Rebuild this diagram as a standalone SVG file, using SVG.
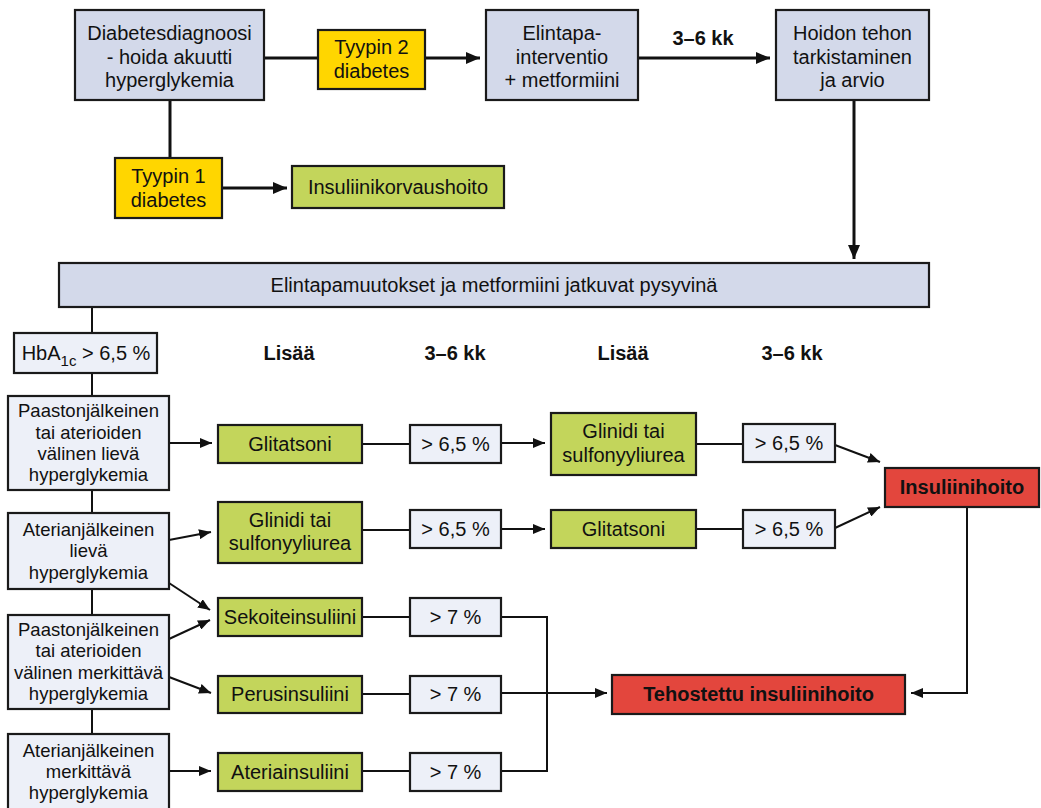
<svg xmlns="http://www.w3.org/2000/svg" width="1041" height="808" viewBox="0 0 1041 808">
<style>
text{font-family:"Liberation Sans",Arial,sans-serif;font-size:20px;fill:#111;text-anchor:middle}
.sm{font-size:18.5px}
.b{font-weight:bold}
.box{stroke:#1a1a1a;stroke-width:2.2}
.blue{fill:#d3d9ea}
.pale{fill:#edf0f8}
.yel{fill:#ffd600}
.grn{fill:#c3d55b}
.red{fill:#e3463d}
.ln{fill:none;stroke:#111;stroke-width:2}
.lnT{fill:none;stroke:#111;stroke-width:3}
</style>
<defs>
<marker id="ah" viewBox="0 0 12 10" refX="12" refY="5" markerWidth="12" markerHeight="10" markerUnits="userSpaceOnUse" orient="auto"><path d="M0,0 L12,5 L0,10 z" fill="#111"/></marker>
<marker id="ahL" viewBox="0 0 14 12" refX="14" refY="6" markerWidth="14" markerHeight="12" markerUnits="userSpaceOnUse" orient="auto"><path d="M0,0 L14,6 L0,12 z" fill="#111"/></marker>
</defs>
<rect width="1041" height="808" fill="#fff"/>
<g id="connectors">
<path class="lnT" d="M264,58 H318"/>
<path class="lnT" d="M425,58 H480" marker-end="url(#ahL)"/>
<path class="lnT" d="M638,58 H770" marker-end="url(#ahL)"/>
<path class="lnT" d="M854,100 V259" marker-end="url(#ahL)"/>
<path class="lnT" d="M170,100 V158"/>
<path class="lnT" d="M222,188 H287" marker-end="url(#ahL)"/>
<path class="ln" d="M92,307 V740"/>
<path class="ln" d="M169,443 H212" marker-end="url(#ah)"/>
<path class="ln" d="M362,444 H410"/>
<path class="ln" d="M501,443 H545" marker-end="url(#ah)"/>
<path class="ln" d="M696,444 H743"/>
<path class="ln" d="M835,445 L880,462" marker-end="url(#ah)"/>
<path class="ln" d="M169,540 L211,532" marker-end="url(#ah)"/>
<path class="ln" d="M362,530 H410"/>
<path class="ln" d="M501,529 H545" marker-end="url(#ah)"/>
<path class="ln" d="M696,529 H743"/>
<path class="ln" d="M835,528 L880,507" marker-end="url(#ah)"/>
<path class="ln" d="M169,583 L210,610" marker-end="url(#ah)"/>
<path class="ln" d="M169,639 L210,620" marker-end="url(#ah)"/>
<path class="ln" d="M169,677 L211,693" marker-end="url(#ah)"/>
<path class="ln" d="M169,771 H211" marker-end="url(#ah)"/>
<path class="ln" d="M362,617 H410"/>
<path class="ln" d="M362,694 H410"/>
<path class="ln" d="M362,771 H410"/>
<path class="ln" d="M501,617 H547 V771 H501"/>
<path class="ln" d="M501,693 H607" marker-end="url(#ah)"/>
<path class="ln" d="M967,507 V693 H911" marker-end="url(#ah)"/>
</g>
<g id="n-diagnoosi"><rect class="box blue" x="75" y="10" width="189" height="90"/><text x="169.5" y="40">Diabetesdiagnoosi</text><text x="169.5" y="63.5">- hoida akuutti</text><text x="169.5" y="87">hyperglykemia</text></g>
<g id="n-tyyppi2"><rect class="box yel" x="318" y="30" width="107" height="59"/><text x="371.5" y="54">Tyypin 2</text><text x="371.5" y="78">diabetes</text></g>
<g id="n-elintapa"><rect class="box blue" x="486" y="10" width="152" height="90"/><text x="562" y="40">Elintapa-</text><text x="562" y="63.5">interventio</text><text x="562" y="87">+ metformiini</text></g>
<text class="b" x="703" y="45">3–6 kk</text>
<g id="n-hoidon"><rect class="box blue" x="776" y="10" width="153" height="90"/><text x="852.5" y="40">Hoidon tehon</text><text x="852.5" y="63.5">tarkistaminen</text><text x="852.5" y="87">ja arvio</text></g>
<g id="n-tyyppi1"><rect class="box yel" x="115" y="158" width="107" height="60"/><text x="168.5" y="183">Tyypin 1</text><text x="168.5" y="207">diabetes</text></g>
<g id="n-korvaus"><rect class="box grn" x="292" y="166" width="212" height="42"/><text x="398" y="194">Insuliinikorvaushoito</text></g>
<g id="n-jatkuvat"><rect class="box blue" x="59" y="263" width="870" height="44"/><text x="494" y="292">Elintapamuutokset ja metformiini jatkuvat pysyvinä</text></g>
<g id="n-hba1c"><rect class="box pale" x="14" y="333" width="143" height="40"/><text x="86" y="360">HbA<tspan font-size="15" dy="6">1c</tspan><tspan dy="-6"> &gt; 6,5 %</tspan></text></g>
<g id="headers"><text class="b" x="289" y="360">Lisää</text><text class="b" x="455" y="360">3–6 kk</text><text class="b" x="623" y="360">Lisää</text><text class="b" x="792" y="360">3–6 kk</text></g>
<g id="n-left1"><rect class="box pale" x="8" y="396" width="161" height="94"/><text class="sm" x="88.5" y="417">Paastonjälkeinen</text><text class="sm" x="88.5" y="439">tai aterioiden</text><text class="sm" x="88.5" y="460">välinen lievä</text><text class="sm" x="88.5" y="481">hyperglykemia</text></g>
<g id="n-left2"><rect class="box pale" x="8" y="513" width="161" height="76"/><text class="sm" x="88.5" y="536">Aterianjälkeinen</text><text class="sm" x="88.5" y="557">lievä</text><text class="sm" x="88.5" y="579">hyperglykemia</text></g>
<g id="n-left3"><rect class="box pale" x="8" y="615" width="161" height="94"/><text class="sm" x="88.5" y="636">Paastonjälkeinen</text><text class="sm" x="88.5" y="657">tai aterioiden</text><text class="sm" x="88.5" y="679">välinen merkittävä</text><text class="sm" x="88.5" y="700">hyperglykemia</text></g>
<g id="n-left4"><rect class="box pale" x="8" y="734" width="161" height="80"/><text class="sm" x="88.5" y="757">Aterianjälkeinen</text><text class="sm" x="88.5" y="778">merkittävä</text><text class="sm" x="88.5" y="799">hyperglykemia</text></g>
<g id="n-r1-glitatsoni"><rect class="box grn" x="218" y="425" width="144" height="38"/><text x="290" y="451">Glitatsoni</text></g>
<g id="n-r1-p1"><rect class="box pale" x="410" y="425" width="91" height="38"/><text x="455.5" y="451">&gt; 6,5 %</text></g>
<g id="n-r1-glinidi"><rect class="box grn" x="551" y="413" width="145" height="62"/><text x="623.5" y="438">Glinidi tai</text><text x="623.5" y="462">sulfonyyliurea</text></g>
<g id="n-r1-p2"><rect class="box pale" x="743" y="424" width="92" height="38"/><text x="789" y="450">&gt; 6,5 %</text></g>
<g id="n-insuliinihoito"><rect class="box red" x="885" y="468" width="154" height="39"/><text class="b" x="962" y="494">Insuliinihoito</text></g>
<g id="n-r2-glinidi"><rect class="box grn" x="218" y="502" width="144" height="61"/><text x="290" y="527">Glinidi tai</text><text x="290" y="550">sulfonyyliurea</text></g>
<g id="n-r2-p1"><rect class="box pale" x="410" y="510" width="91" height="38"/><text x="455.5" y="536">&gt; 6,5 %</text></g>
<g id="n-r2-glitatsoni"><rect class="box grn" x="551" y="510" width="145" height="38"/><text x="623.5" y="536">Glitatsoni</text></g>
<g id="n-r2-p2"><rect class="box pale" x="743" y="510" width="92" height="38"/><text x="789" y="536">&gt; 6,5 %</text></g>
<g id="n-sekoite"><rect class="box grn" x="218" y="598" width="144" height="38"/><text x="290" y="624">Sekoiteinsuliini</text></g>
<g id="n-sekoite-p"><rect class="box pale" x="410" y="598" width="91" height="38"/><text x="455.5" y="624">&gt; 7 %</text></g>
<g id="n-perus"><rect class="box grn" x="218" y="676" width="144" height="37"/><text x="290" y="701">Perusinsuliini</text></g>
<g id="n-perus-p"><rect class="box pale" x="410" y="676" width="91" height="37"/><text x="455.5" y="701">&gt; 7 %</text></g>
<g id="n-ateria"><rect class="box grn" x="218" y="753" width="144" height="38"/><text x="290" y="779">Ateriainsuliini</text></g>
<g id="n-ateria-p"><rect class="box pale" x="410" y="753" width="91" height="38"/><text x="455.5" y="779">&gt; 7 %</text></g>
<g id="n-tehostettu"><rect class="box red" x="612" y="675" width="293" height="39"/><text class="b" x="758.5" y="701">Tehostettu insuliinihoito</text></g>
</svg>
